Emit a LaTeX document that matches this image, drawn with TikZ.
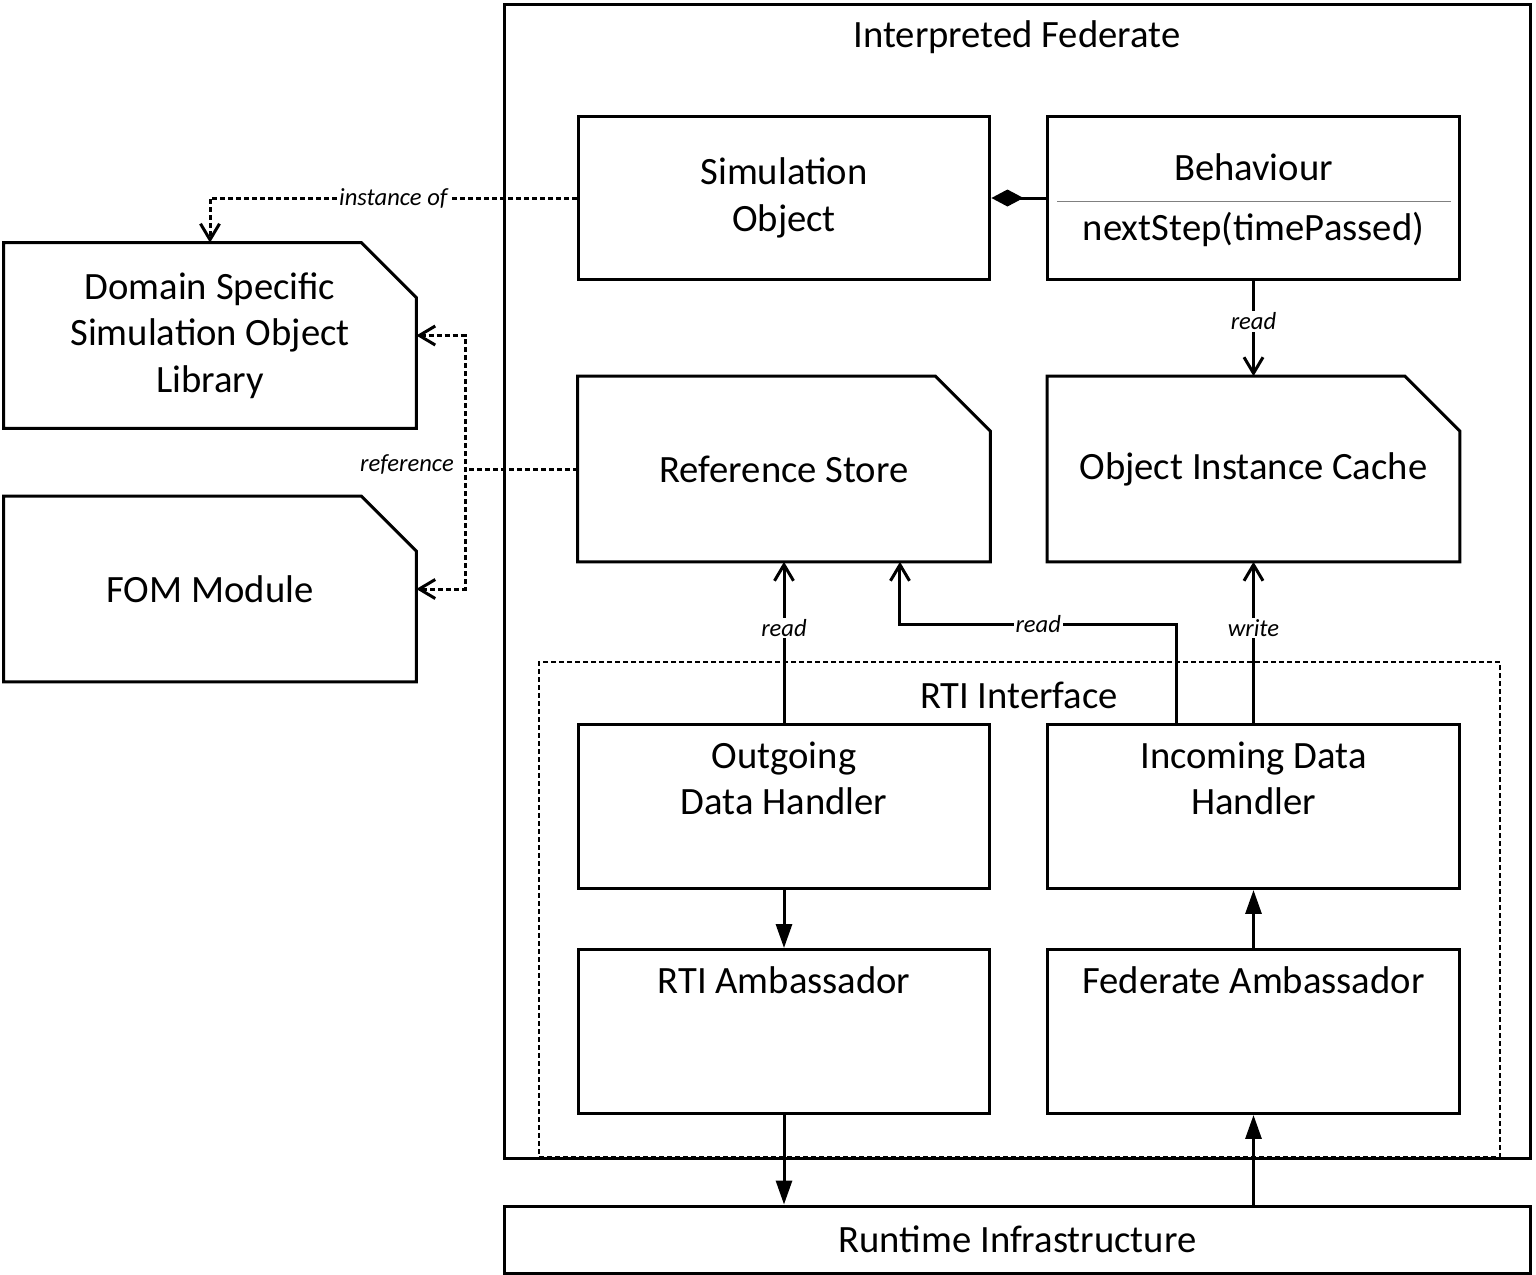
\documentclass[tikz,border=0pt]{standalone}
\usepackage{fontspec}
\setmainfont{Carlito}
\usetikzlibrary{positioning, calc, arrows.meta}

\begin{document}
\begin{tikzpicture}[x=0.02cm, y=-0.02cm,
        % Define block styles
        box/.style={draw, rectangle, line width=0.06cm, minimum width=8.24cm, minimum height=3.28cm, align=center, font=\fontsize{22}{26.4}\selectfont},
        topbox/.style={box, inner ysep=0pt, text height=0.88cm, text depth=2.4cm},
        note/.style={rectangle, minimum width=8.24cm, minimum height=3.7cm, align=center, font=\fontsize{22}{26.4}\selectfont},
        fedframe/.style={draw, rectangle, line width=0.06cm},
        dashframe/.style={draw, rectangle, line width=0.05cm, dash pattern=on 0.1cm off 0.06cm},
        title/.style={font=\fontsize{22}{26.4}\selectfont},
        tag/.style={font=\fontsize{14}{16}\itshape\selectfont, fill=white, inner sep=1pt},
        arrow/.style={draw, line width=0.06cm, -{Straight Barb[length=0.32cm,width=0.38cm]}},
        dashline/.style={draw, line width=0.06cm, dash pattern=on 0.1cm off 0.06cm},
        flow/.style={draw, line width=0.06cm, -{Triangle[length=0.48cm,width=0.32cm]}},
        compose/.style={draw, line width=0.06cm, -{Diamond[length=0.64cm,width=0.34cm]}}
    ]
    \path[fill=white, use as bounding box] (0,0) rectangle (1536,1275);

    % --- Frames ---
    \node[fedframe, minimum width=20.54cm, minimum height=23.1cm] (fed) at (1017.5,581.5) {};
    \node[title] (fedtitle) at (1017,37) {Interpreted Federate};
    \node[dashframe, minimum width=19.22cm, minimum height=9.9cm] (rtiif) at (1019.5,909.5) {};
    \node[title] (rtititle) at (1019,695) {RTI Interface};

    % --- Nodes Placement ---
    \node[box] (simobj) at (784,198) {Simulation\\Object};
    \node[topbox, text height=1.28cm, text depth=2cm] (behav) at (1253.5,198) {%
        \begin{tabular}[t]{c}
        Behaviour\\[0.28cm]
        nextStep(timePassed)
        \end{tabular}%
    };
    \draw[gray, line width=0.02cm] ($(behav.north west)+(11,87)$) -- ($(behav.north east)+(-10,87)$);

    \node[note] (refstore) at (784,469) {Reference Store};
    \node[note] (oic) at (1253.5,469) {Object Instance Cache};
    \node[note] (dssol) at (210,335.5) {Domain Specific\\Simulation Object\\Library};
    \node[note] (fom) at (210,589) {FOM Module};

    \node[topbox] (outgoing) at (784,806.5) {%
        \begin{tabular}[t]{c}
        Outgoing\\
        Data Handler
        \end{tabular}%
    };
    \node[topbox] (incoming) at (1253.5,806.5) {%
        \begin{tabular}[t]{c}
        Incoming Data\\
        Handler
        \end{tabular}%
    };
    \node[topbox] (rtiamb) at (784,1031.5) {RTI Ambassador};
    \node[topbox] (fedamb) at (1253.5,1031.5) {Federate Ambassador};

    \node[box, minimum width=20.54cm, minimum height=1.34cm] (rti) at (1017.5,1239.5) {Runtime Infrastructure};

    % folded corners of the note boxes
    \foreach \n in {dssol, fom, refstore, oic}
        \draw[line width=0.06cm] (\n.south west) -- (\n.north west) -- ([xshift=-1.1cm]\n.north east)
            -- ([yshift=-1.1cm]\n.north east) -- (\n.south east) -- cycle;

    % --- Connections / Arrows ---
    \coordinate (refjoin) at (465,469);
    \draw[dashline, -{Straight Barb[length=0.32cm,width=0.38cm]}] (simobj.west) -| node[tag, pos=0.25] {instance of} (dssol.north);
    \draw[dashline, {Straight Barb[length=0.32cm,width=0.38cm]}-{Straight Barb[length=0.32cm,width=0.38cm]}] (dssol.east) -| (refjoin) |- (fom.east);
    \draw[dashline] (refstore.west) -- (refjoin) node[tag, anchor=east, xshift=-0.16cm, yshift=0.08cm] {reference};

    \draw[compose] (behav.west) -- (simobj.east);

    \draw[arrow] (behav.south) -- node[tag, pos=0.42] {read} (oic.north);
    \draw[arrow] (outgoing.north) -- node[tag, pos=0.59] {read} (refstore.south);
    \draw[arrow] ([xshift=-1.54cm]incoming.north) -- ++(0,-99) -| node[tag, pos=0.25] {read} ([xshift=2.32cm]refstore.south);
    \draw[arrow] (incoming.north) -- node[tag, pos=0.59] {write} (oic.south);

    % RTI side
    \draw[flow] (outgoing.south) -- (rtiamb.north);
    \draw[flow] (fedamb.north) -- (incoming.south);
    \draw[flow] (rtiamb.south) -- (rtiamb.south |- rti.north);
    \draw[flow] (rti.north -| fedamb.south) -- (fedamb.south);

\end{tikzpicture}
\end{document}
